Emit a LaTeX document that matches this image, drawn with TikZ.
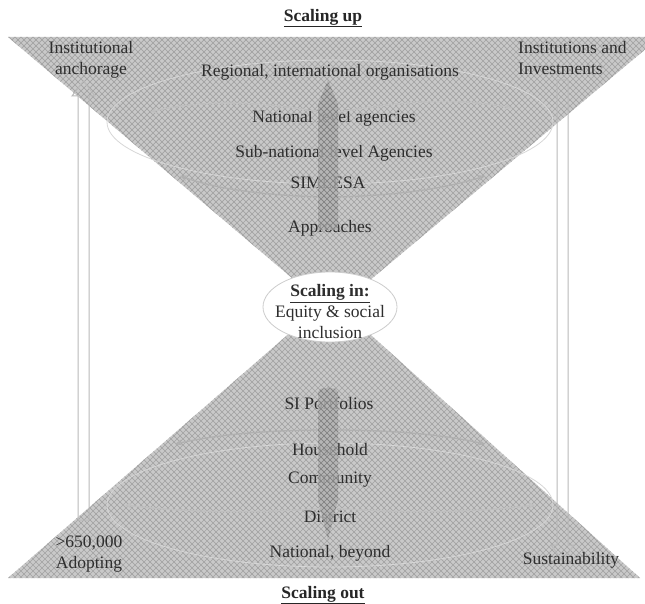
\documentclass[tikz,border=0pt]{standalone}
\usepackage{fontspec}
\setmainfont{Liberation Serif}
\usetikzlibrary{patterns.meta,arrows.meta,shapes.geometric}
\tikzdeclarepattern{name=xhatch,type=uncolored,
  bottom left={(-.5pt,-.5pt)},top right={(6.5pt,6.5pt)},tile size={(6pt,6pt)},
  code={\draw[line width=.7pt] (0,0)--(6pt,6pt) (0,6pt)--(6pt,0);}}
\begin{document}
\begin{tikzpicture}[x=1pt,y=-1pt,
  lbl/.style={font=\fontsize{17.5}{21}\selectfont,text=black!82,inner sep=0pt,align=center},
  hdr/.style={font=\fontsize{17.5}{21}\selectfont\bfseries,text=black!85,inner sep=0pt},
  hourglass/.style={fill=gray!42,postaction={pattern=xhatch,pattern color=gray!72}},
  band/.style={fill=gray!60,fill opacity=.85,postaction={pattern=xhatch,pattern color=gray!100}},
  hollow/.style={draw=gray!55,line width=1pt},
  swoosh/.style={draw=gray!62,line width=1.3pt,-{Stealth[length=7pt,width=6pt]}},
  ring/.style={draw=gray!32,line width=.8pt}]
\useasboundingbox (0,0) rectangle (645,604);
% hourglass halves
\begin{scope}
\clip (0,0) rectangle (645,604);
\path[hourglass] (8,37) -- (660,37) -- (332,312) -- cycle;
\end{scope}
\path[hourglass] (8,578) -- (640,578) -- (330,298) -- cycle;
% rings
\draw[ring] (330,122) ellipse [x radius=223,y radius=62];
\draw[ring] (330,505) ellipse [x radius=223,y radius=62];
% hollow side arrows
\draw[hollow] (78,520) -- (78,96) -- (72,96) -- (83.5,81) -- (95,96) -- (89,96) -- (89,520) -- cycle;
\draw[hollow] (557,80) -- (557,545) -- (551,545) -- (562.5,561) -- (574,545) -- (568,545) -- (568,80) -- cycle;
% texts
\node[hdr] (up) at (323,18) {\underline{Scaling up}};
\node[hdr] (out) at (323,595) {\underline{Scaling out}};
\node[lbl] (inst) at (91,60) {Institutional\\anchorage};
\node[lbl,align=left,anchor=west] (invest) at (518,58) {Institutions and\\Investments};
\node[lbl] (reg) at (330,72) {Regional, international organisations};
\node[lbl] (nat) at (334,118) {National level agencies};
\node[lbl] (sub) at (334,153) {Sub-national level Agencies};
\node[lbl] (sim) at (328,183) {SIMLESA};
\node[lbl] (appr) at (330,228) {Approaches};
\node[lbl] (port) at (329,403) {SI Portfolios};
\node[lbl] (house) at (330,450) {Household};
\node[lbl] (comm) at (330,480) {Community};
\node[lbl] (dist) at (330,517) {District};
\node[lbl] (natb) at (330,553) {National, beyond};
\node[lbl] (adopt) at (89,554) {>650,000\\Adopting};
\node[lbl] (sust) at (571,560) {Sustainability};
% swooshes
\coordinate (tc) at (330,114);
\coordinate (tl) at (150,112);
\coordinate (tr) at (512,108);
\draw[swoosh,draw=gray!50] (tc) .. controls (260,100) and (200,100) .. (tl);
\draw[swoosh,draw=gray!50] (tc) .. controls (400,100) and (460,98) .. (tr);
\coordinate (mc) at (330,197);
\coordinate (ml) at (180,176);
\coordinate (mr) at (485,176);
\draw[swoosh] (mc) .. controls (270,196) and (220,190) .. (ml);
\draw[swoosh] (mc) .. controls (390,196) and (440,190) .. (mr);
\coordinate (bc) at (330,430);
\coordinate (bl) at (175,444);
\coordinate (br) at (485,444);
\draw[swoosh] (bc) .. controls (270,430) and (220,434) .. (bl);
\draw[swoosh] (bc) .. controls (390,430) and (440,434) .. (br);
\coordinate (lc) at (330,508);
\coordinate (ll) at (125,505);
\coordinate (lr) at (535,505);
\draw[swoosh,draw=gray!50] (lc) .. controls (250,514) and (180,512) .. (ll);
\draw[swoosh,draw=gray!50] (lc) .. controls (410,514) and (480,512) .. (lr);
% central bands
\path[band] (328,80) -- (338,104) -- (338,230) -- (318,230) -- (318,104) -- cycle;
\path[band] (318,392) .. controls (323,384) and (325,392) .. (328,386) .. controls (331,392) and (334,384) .. (338,392)
  -- (338,500) -- (328,540) -- (318,500) -- cycle;
% centre ellipse
\node[ellipse,draw=gray!40,fill=white,minimum width=134pt,minimum height=70pt,line width=.8pt] (ring) at (330,307) {};
\node[lbl] (inl) at (330,312) {\textbf{\underline{Scaling in:}}\\Equity \& social\\inclusion};
\end{tikzpicture}
\end{document}
